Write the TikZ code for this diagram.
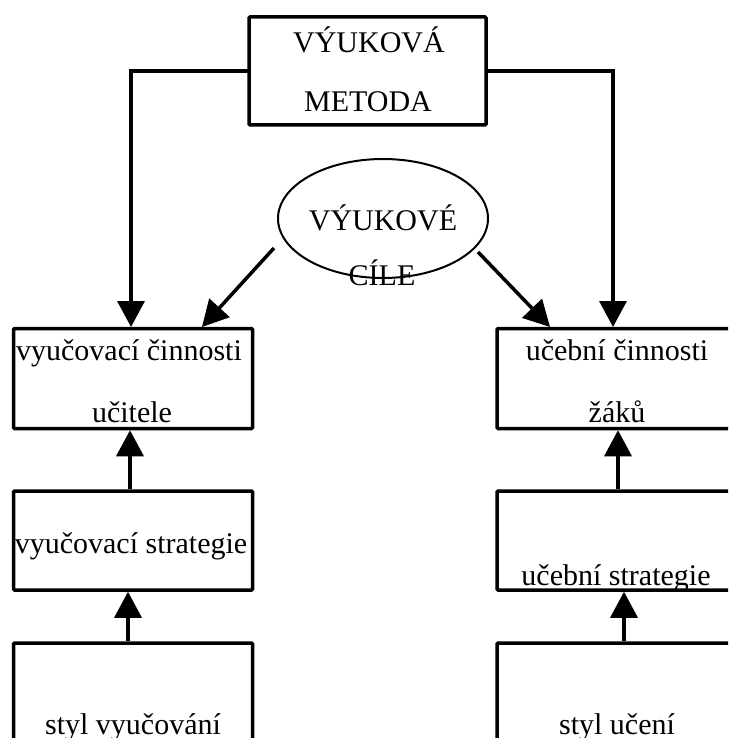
\documentclass[tikz,border=0pt]{standalone}
\usepackage{fontspec}
\setmainfont{Liberation Serif}
\usetikzlibrary{arrows.meta,shapes.geometric}
\begin{document}
\begin{tikzpicture}[x=1pt,y=-1pt,
  box/.style={draw,line width=3.5pt,rounded corners=1pt,inner sep=0pt},
  lbl/.style={anchor=base,inner sep=0pt,font=\fontsize{30}{36}\selectfont},
  conn/.style={line width=3.5pt,-{Triangle[width=27pt,length=26pt]}},
  line/.style={line width=3.5pt}]
\useasboundingbox (0,0) rectangle (728,738);
\clip (0,0) rectangle (728,738);
\fill[white] (0,0) rectangle (728,738);
% top box
\draw[box] (249,17) rectangle (486,125);
\node[lbl] (t1) at (369,53) {VÝUKOVÁ};
\node[lbl] (t2) at (368,112) {METODA};
\coordinate (metL) at (249,71);
\coordinate (metR) at (486,71);
% ellipse
\node[draw,ellipse,line width=2pt,minimum width=210pt,minimum height=119pt,inner sep=0pt] (cile) at (383,218.5) {};
\node[lbl] (c1) at (383,230) {VÝUKOVÉ};
\node[lbl] (c2) at (382,285) {CÍLE};
% boxes
\node[box,minimum width=239pt,minimum height=100pt] (L1) at (133,378.5) {};
\node[box,minimum width=239pt,minimum height=99pt] (L2) at (133,540.5) {};
\node[box,minimum width=239pt,minimum height=120pt] (L3) at (133,703) {};
\node[box,minimum width=239pt,minimum height=100pt] (R1) at (616.5,378.5) {};
\node[box,minimum width=239pt,minimum height=99pt] (R2) at (616.5,540.5) {};
\node[box,minimum width=239pt,minimum height=120pt] (R3) at (616.5,703) {};
% labels
\node[lbl] at (129,360) {vyučovací činnosti};
\node[lbl] at (132,422) {učitele};
\node[lbl] at (617,360) {učební činnosti};
\node[lbl] at (617,422) {žáků};
\node[lbl] at (131,553) {vyučovací strategie};
\node[lbl] at (616,585) {učební strategie};
\node[lbl] at (133,734) {styl vyučování};
\node[lbl] at (617,734) {styl učení};
% connectors
\coordinate (aL) at (131,327);
\coordinate (aR) at (613,327);
\draw[conn] (metL) -- (131,71) -- (aL);
\draw[conn] (metR) -- (613,71) -- (aR);
\coordinate (dL1) at (274,248);
\coordinate (dL2) at (202,327);
\coordinate (dR1) at (478,252);
\coordinate (dR2) at (550,327);
\draw[conn] (dL1) -- (dL2);
\draw[conn] (dR1) -- (dR2);
\draw[conn] (L2.north -| 130,0) -- (L1.south -| 130,0);
\draw[conn] (L3.north -| 128,0) -- (L2.south -| 128,0);
\draw[conn] (R2.north -| 618,0) -- (R1.south -| 618,0);
\draw[conn] (R3.north -| 624,0) -- (R2.south -| 624,0);
\end{tikzpicture}
\end{document}
